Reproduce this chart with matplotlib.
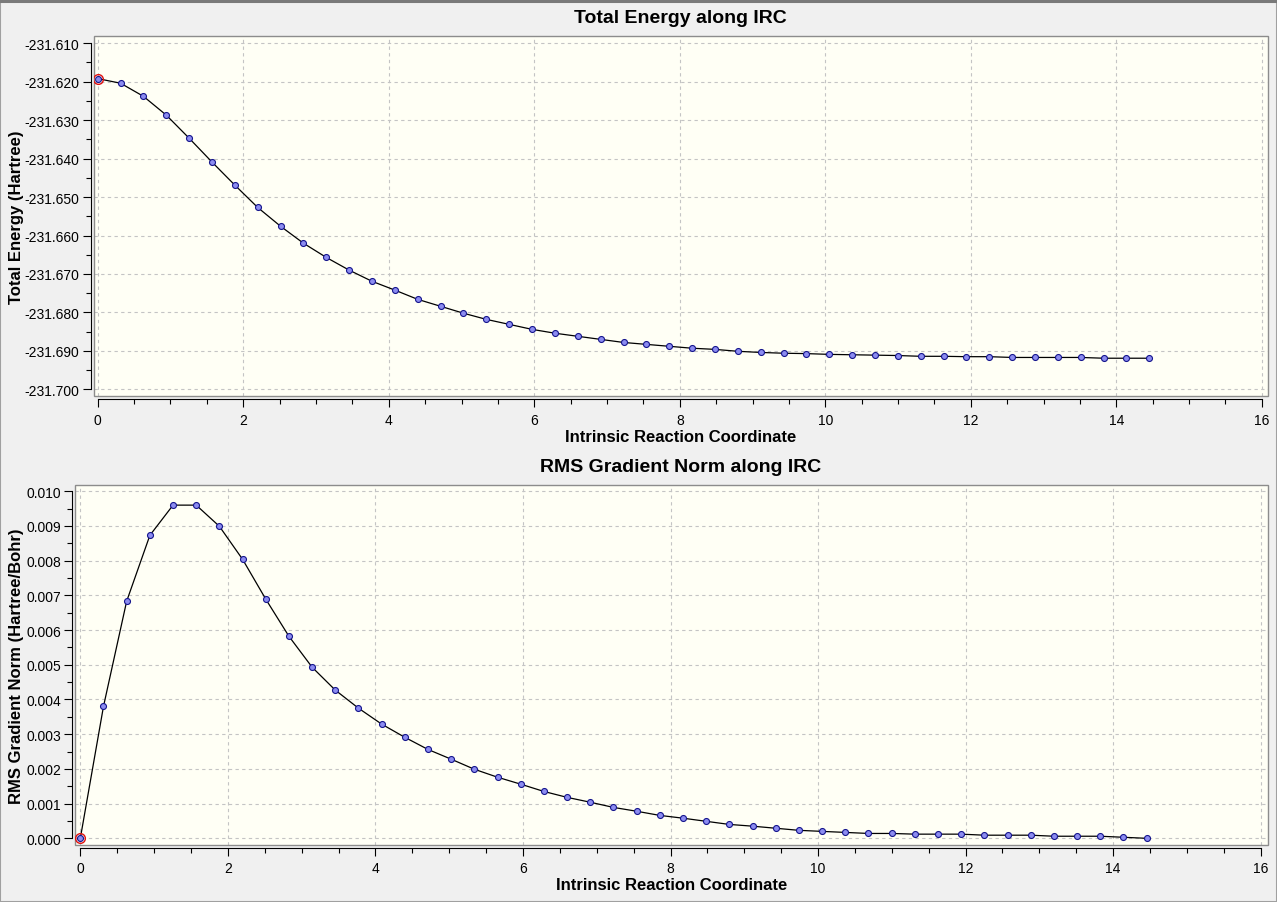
import matplotlib
matplotlib.use("Agg")
import matplotlib.pyplot as plt
from matplotlib.ticker import MultipleLocator, FormatStrFormatter
from matplotlib.patches import Rectangle
from matplotlib.lines import Line2D

plt.rcParams['font.family'] = ['Liberation Sans', 'DejaVu Sans']

# ---------------- data ----------------
irc = [0.000, 0.314, 0.628, 0.943, 1.257, 1.571, 1.885, 2.199, 2.514, 2.828,
       3.142, 3.456, 3.770, 4.085, 4.399, 4.713, 5.027, 5.341, 5.656, 5.970,
       6.284, 6.598, 6.912, 7.227, 7.541, 7.855, 8.169, 8.483, 8.798, 9.112,
       9.426, 9.740, 10.054, 10.369, 10.683, 10.997, 11.311, 11.625, 11.940, 12.254,
       12.568, 12.882, 13.196, 13.511, 13.825, 14.139, 14.453]

energy = [-231.6192, -231.6204, -231.6238, -231.6287, -231.6347, -231.6409, -231.6469, -231.6527, -231.6576, -231.6620,
          -231.6657, -231.6690, -231.6719, -231.6742, -231.6766, -231.6784, -231.6802, -231.6818, -231.6831, -231.6844,
          -231.6854, -231.6862, -231.6870, -231.6878, -231.6883, -231.6888, -231.6893, -231.6896, -231.6901, -231.6904,
          -231.6906, -231.6907, -231.6909, -231.6910, -231.6911, -231.6912, -231.6914, -231.6914, -231.6915, -231.6915,
          -231.6917, -231.6917, -231.6917, -231.6917, -231.6919, -231.6919, -231.6919]

gradient = [0.00000, 0.00380, 0.00683, 0.00873, 0.00960, 0.00960, 0.00899, 0.00804, 0.00689, 0.00582,
            0.00493, 0.00427, 0.00375, 0.00329, 0.00291, 0.00256, 0.00228, 0.00199, 0.00176, 0.00156,
            0.00135, 0.00118, 0.00104, 0.00089, 0.00078, 0.00066, 0.00058, 0.00049, 0.00040, 0.00035,
            0.00029, 0.00023, 0.00020, 0.00017, 0.00014, 0.00014, 0.00012, 0.00012, 0.00012, 0.00009,
            0.00009, 0.00009, 0.00006, 0.00006, 0.00006, 0.00003, 0.00000]

titles = ["Total Energy along IRC", "RMS Gradient Norm along IRC"]
ylabels = ["Total Energy (Hartree)", "RMS Gradient Norm (Hartree/Bohr)"]
xlabel = "Intrinsic Reaction Coordinate"

# ---------------- figure ----------------
W, H = 1277, 903
fig = plt.figure(figsize=(W / 100, H / 100), dpi=100)
fig.patch.set_facecolor('#f0f0f0')


def px_axes(l, t, r, b):
    return [l / W, 1 - b / H, (r - l) / W, (b - t) / H]


ax1 = fig.add_axes(px_axes(93.7, 37.3, 1267.7, 397.3))
ax2 = fig.add_axes(px_axes(75.3, 486.0, 1267.7, 845.7))

face = '#fffff5'
configs = [
    (ax1, energy, (-0.055, 16.08), (-231.7018, -231.6082), 0.01, 0.005, (-231.700, -231.610), -0.0658, 0.5),
    (ax2, gradient, (-0.068, 16.095), (-0.000184, 0.01018), 0.001, 0.0005, (0.0, 0.010), -0.0493, 0.508),
]

for i, (ax, yv, xl, yl, ymaj, ymin, ybounds, ylab_x, title_x) in enumerate(configs):
    ax.set_facecolor(face)
    ax.set_xlim(*xl)
    ax.set_ylim(*yl)
    ax.xaxis.set_major_locator(MultipleLocator(2))
    ax.xaxis.set_minor_locator(MultipleLocator(0.5))
    ax.yaxis.set_major_locator(MultipleLocator(ymaj))
    ax.yaxis.set_minor_locator(MultipleLocator(ymin))
    ax.yaxis.set_major_formatter(FormatStrFormatter('%.3f'))
    ax.xaxis.set_major_formatter(FormatStrFormatter('%d'))

    ax.grid(True, which='major', linestyle=(0, (3, 3)), color='#c4c4c4', linewidth=0.8)
    ax.set_axisbelow(True)

    for s in ['top', 'right']:
        ax.spines[s].set_visible(False)
    for s in ['left', 'bottom']:
        ax.spines[s].set_position(('outward', 2.2))
        ax.spines[s].set_color('black')
        ax.spines[s].set_linewidth(0.8)
    ax.spines['bottom'].set_bounds(0, 16)
    ax.spines['left'].set_bounds(*ybounds)

    ax.tick_params(which='major', direction='out', length=6, width=0.8, color='black',
                   labelsize=10, labelcolor='black')
    ax.tick_params(which='minor', direction='out', length=3.8, width=0.8, color='black')
    ax.tick_params(axis='x', which='major', pad=3.5)
    ax.tick_params(axis='y', which='major', pad=2)

    # frame
    ax.add_patch(Rectangle((0, 0), 1, 1, transform=ax.transAxes, fill=False,
                           edgecolor='#8c8c8c', linewidth=1.0, clip_on=False, zorder=5))

    ax.plot(irc, yv, color='black', linewidth=0.9, zorder=3)
    ax.plot(irc, yv, linestyle='none', marker='o', markersize=4.3,
            markerfacecolor='#8c8cf0', markeredgecolor='#14148c', markeredgewidth=0.8, zorder=4)
    ax.plot(irc[:1], yv[:1], linestyle='none', marker='o', markersize=7,
            markerfacecolor='none', markeredgecolor='#e01010', markeredgewidth=1.0, zorder=5)

    ax.text(title_x, 1.051, titles[i], transform=ax.transAxes, ha='center', va='center',
            fontsize=14, fontweight='bold', color='black')
    ax.set_xlabel(xlabel, fontsize=12, fontweight='bold', color='black')
    ax.xaxis.label.set_va('center')
    ax.xaxis.set_label_coords(0.5, -0.111)
    ax.set_ylabel(ylabels[i], fontsize=12, fontweight='bold', color='black')
    ax.yaxis.label.set_va('center')
    ax.yaxis.set_label_coords(ylab_x, 0.5)

# window border
fig.add_artist(Rectangle((0, 0), 1, 1, transform=fig.transFigure, fill=False,
                         edgecolor='#a0a0a0', linewidth=1.5))
fig.add_artist(Line2D([0, 1], [1 - 1.5 / H, 1 - 1.5 / H], transform=fig.transFigure,
                      color='#7a7a7a', linewidth=2.2))

fig.savefig('out.png', dpi=100, facecolor=fig.get_facecolor())
